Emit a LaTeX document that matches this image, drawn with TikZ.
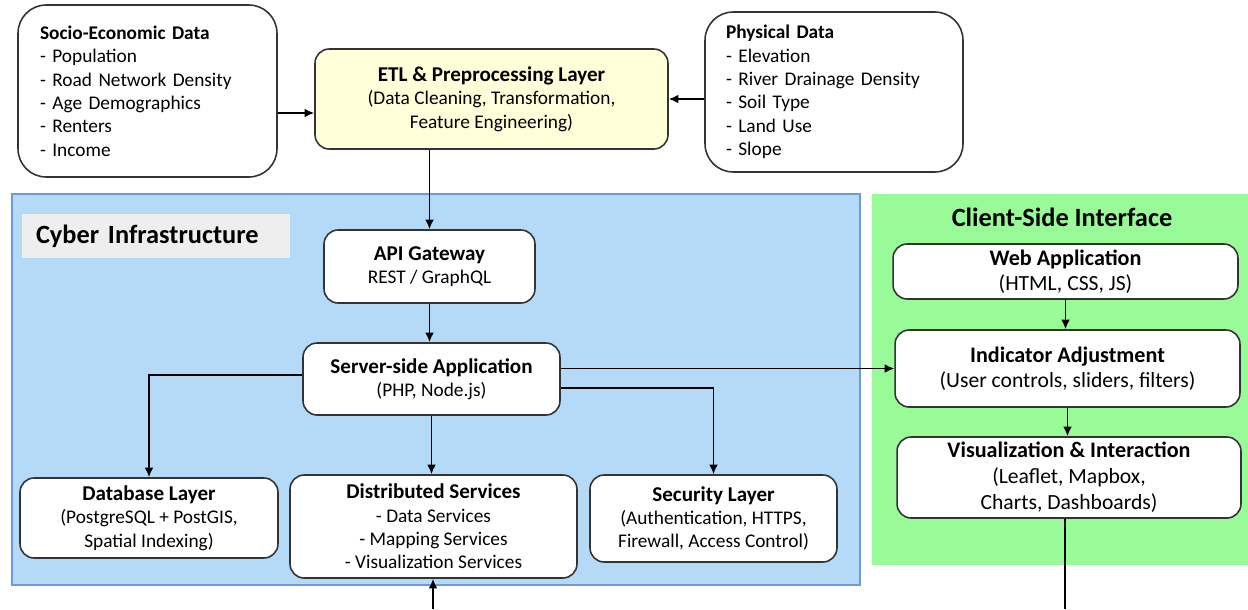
\documentclass[tikz,border=0pt]{standalone}
\usepackage{fontspec}
\setmainfont{Carlito}
\usepackage{tikz}
\usetikzlibrary{shapes,arrows.meta}
\definecolor{cyberblue}{RGB}{180,218,248}
\definecolor{cyberedge}{RGB}{110,155,215}
\definecolor{clientgreen}{RGB}{152,251,152}
\definecolor{etlyellow}{RGB}{255,255,218}
\definecolor{labelgray}{RGB}{238,238,238}
\newcommand{\hd}[1]{{\fontsize{12}{14}\selectfont\bfseries #1}}
\newcommand{\chd}[1]{{\fontsize{12.6}{14.5}\selectfont\bfseries #1}}
\tikzstyle{line} = [draw, line width=0.9pt, -{Latex[length=5.5pt,width=5pt]}]
\tikzstyle{box} = [draw=black!80, line width=0.9pt, fill=white, rounded corners=8pt,
  align=center, inner sep=0pt, font=\fontsize{11}{13.3}\selectfont]
\tikzstyle{cbox} = [box, font=\fontsize{12.3}{14.2}\selectfont]

\begin{document}
\begin{tikzpicture}[x=0.02cm,y=-0.02cm]
\tikzstyle{title} = [font=\fontsize{15}{17}\selectfont\bfseries]
\useasboundingbox (0,0) rectangle (1248,609);
% panels
\fill[cyberblue, draw=cyberedge, line width=0.6pt] (12,194) rectangle (860,585);
\fill[clientgreen] (872,194) rectangle (1248,565);
\node[title, fill=labelgray, minimum height=0.88cm, text width=4.8cm,
  inner xsep=0.28cm, align=left] (cyberlbl) at (156,236) {Cyber Infrastructure};
\node[title] (clientlbl) at (1062,217) {Client-Side Interface};

% data sources
\node[box, rounded corners=16pt, align=left, text width=4.3cm, inner xsep=0.44cm,
  minimum height=3.44cm] (socio) at (147.5,91)
  {\textbf{Socio-Economic Data}\\- Population\\- Road Network Density\\
   - Age Demographics\\- Renters\\- Income};
\node[box, rounded corners=16pt, align=left, text width=4.32cm, inner xsep=0.42cm,
  minimum height=3.2cm] (phys) at (834,92)
  {\textbf{Physical Data}\\- Elevation\\- River Drainage Density\\
   - Soil Type\\- Land Use\\- Slope};
\node[box, fill=etlyellow, minimum width=7.06cm, minimum height=2cm] (etl) at (491.5,99)
  {\hd{ETL \& Preprocessing Layer}\\(Data Cleaning, Transformation,\\Feature Engineering)};

% cyber infrastructure
\node[box, minimum width=4.22cm, minimum height=1.46cm] (api) at (429.5,266.5)
  {\hd{API Gateway}\\REST / GraphQL};
\node[box, minimum width=5.14cm, minimum height=1.44cm] (server) at (431.5,379)
  {\hd{Server-side Application}\\(PHP, Node.js)};
\node[box, minimum width=5.16cm, minimum height=1.6cm] (db) at (149,518)
  {\hd{Database Layer}\\(PostgreSQL + PostGIS,\\Spatial Indexing)};
\node[box, minimum width=5.74cm, minimum height=2.06cm] (dist) at (433.5,526.5)
  {\hd{Distributed Services}\\- Data Services\\- Mapping Services\\- Visualization Services};
\node[box, minimum width=4.94cm, minimum height=1.74cm] (sec) at (713.5,518.5)
  {\hd{Security Layer}\\(Authentication, HTTPS,\\Firewall, Access Control)};

% client side
\node[cbox, minimum width=6.9cm, minimum height=1.1cm] (web) at (1065.5,271.5)
  {\chd{Web Application}\\(HTML, CSS, JS)};
\node[cbox, minimum width=6.9cm, minimum height=1.54cm] (ind) at (1067.5,368.5)
  {\chd{Indicator Adjustment}\\(User controls, sliders, filters)};
\node[cbox, minimum width=6.88cm, minimum height=1.62cm,
  font=\fontsize{12.3}{14.8}\selectfont] (viz) at (1069,477.5)
  {\chd{Visualization \& Interaction}\\(Leaflet, Mapbox,\\Charts, Dashboards)};

\coordinate (distin) at (433,609);
\coordinate (vizout) at (1065,609);

% connectors
\path [line] ([yshift=-0.44cm]socio.east) -- ([yshift=-0.28cm]etl.west);
\path [line] (phys.west |- etl.east) -- (etl.east);
\path [line] (api.north |- etl.south) -- (api.north);
\path [line] (api.south) -- (api.south |- server.north);
\path [line] ([yshift=0.08cm]server.west) -| (db.north);
\path [line] (server.south) -- (server.south |- dist.north);
\path [line] ([yshift=-0.18cm]server.east) -| (sec.north);
\path [line] (server.east |- ind.west) -- (ind.west);
\path [line] (web.south) -- (web.south |- ind.north);
\path [line] (ind.south) -- (ind.south |- viz.north);
\path [line] (distin) -- (distin |- dist.south);
\draw [line width=0.9pt] (vizout |- viz.south) -- (vizout);
\end{tikzpicture}
\end{document}
